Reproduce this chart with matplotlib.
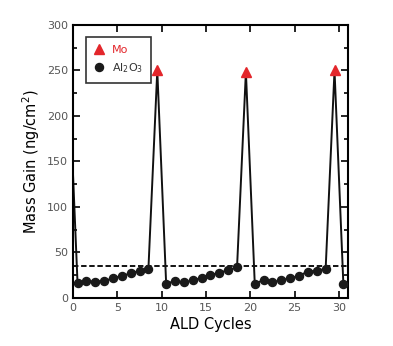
import numpy as np
import matplotlib.pyplot as plt
from matplotlib.ticker import MultipleLocator

# --- data: mass gain per half-cycle ---
al2o3_cycles = [0.5, 1.5, 2.5, 3.5, 4.5, 5.5, 6.5, 7.5, 8.5,
                10.5, 11.5, 12.5, 13.5, 14.5, 15.5, 16.5, 17.5, 18.5,
                20.5, 21.5, 22.5, 23.5, 24.5, 25.5, 26.5, 27.5, 28.5,
                30.5]
al2o3_gain = [16.5, 18.4, 18.0, 18.7, 21.4, 24.3, 26.9, 29.8, 32.0,
              15.8, 18.4, 17.0, 19.2, 22.0, 25.0, 27.6, 30.5, 33.5,
              15.4, 19.8, 17.0, 19.8, 21.4, 24.3, 29.0, 29.8, 32.0,
              15.0]
mo_cycles = [-0.5, 9.5, 19.5, 29.5]
mo_gain = [250, 250, 248.5, 250]
baseline = 35

# full trace joining both kinds of points in cycle order
all_x = np.array(al2o3_cycles + mo_cycles)
all_y = np.array(al2o3_gain + mo_gain)
order = np.argsort(all_x)
mo_x = np.array(mo_cycles)
mo_y = np.array(mo_gain)
shown = mo_x >= 0

plt.rcParams['font.family'] = 'DejaVu Sans'
fig = plt.figure(figsize=(3.93, 3.46), dpi=100)
ax = fig.add_axes([0.186, 0.139, 0.699, 0.789])

ax.plot(all_x[order], all_y[order], color='#111111', lw=1.4, zorder=2)
ax.axhline(baseline, color='black', lw=1.3, ls=(0, (3, 1.5)), zorder=1)
ax.plot(al2o3_cycles, al2o3_gain, 'o', color='#1a1a1a', ms=5.8,
        label='Al$_2$O$_3$', zorder=3)
ax.plot(mo_x[shown], mo_y[shown], '^', color='#e3262b', ms=6.5,
        label='Mo', zorder=3)

ax.set_xlim(0, 31)
ax.set_ylim(0, 300)
ax.xaxis.set_major_locator(MultipleLocator(5))
ax.yaxis.set_major_locator(MultipleLocator(50))
ax.yaxis.set_minor_locator(MultipleLocator(25))
ax.tick_params(which='both', direction='in', top=True, right=True,
               labelsize=8, labelcolor='#555555', width=1.2)
ax.tick_params(which='major', length=5)
ax.tick_params(which='minor', length=3)
for s in ax.spines.values():
    s.set_linewidth(1.5)

ax.set_xlabel('ALD Cycles', fontsize=10.5, labelpad=3)
ax.set_ylabel('Mass Gain (ng/cm$^2$)', fontsize=10.5, labelpad=4)

handles, labels = ax.get_legend_handles_labels()
leg = ax.legend(handles[::-1], labels[::-1], loc='upper left',
                bbox_to_anchor=(0.047, 0.956), borderaxespad=0,
                fontsize=8, frameon=True, fancybox=False,
                edgecolor='black', handlelength=1.0, handletextpad=0.6,
                borderpad=0.7, labelspacing=0.6)
leg.get_frame().set_linewidth(1.2)
leg.get_texts()[0].set_color('#e3262b')
leg.get_texts()[1].set_color('#333333')

fig.savefig('out.png', dpi=100)
